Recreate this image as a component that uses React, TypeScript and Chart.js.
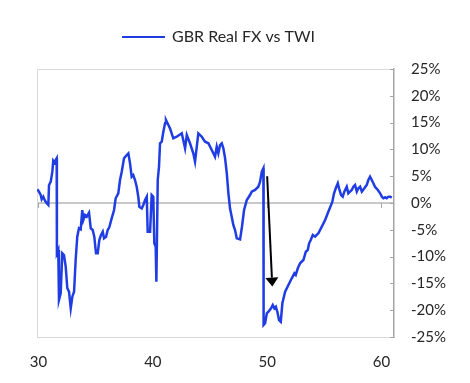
import React, { useEffect, useRef } from 'react';
import { Chart, registerables } from 'chart.js';

Chart.register(...registerables);

const seriesLabel = 'GBR Real FX vs TWI';

const xValues = [
  29.9, 30.04, 30.19, 30.28, 30.42, 30.57, 30.72, 30.86, 30.92, 31.07,
  31.21, 31.29, 31.42, 31.5, 31.59, 31.61, 31.73, 31.79, 31.94, 32.08,
  32.23, 32.38, 32.52, 32.67, 32.82, 32.96, 33.11, 33.25, 33.39, 33.54,
  33.69, 33.83, 33.92, 34.07, 34.22, 34.42, 34.57, 34.74, 34.88, 35.03,
  35.18, 35.32, 35.47, 35.62, 35.73, 35.91, 36.05, 36.19, 36.4, 36.61,
  36.75, 36.98, 37.13, 37.28, 37.48, 37.72, 37.86, 38.01, 38.15, 38.29,
  38.44, 38.59, 38.73, 38.82, 39.03, 39.17, 39.32, 39.47, 39.55, 39.76,
  39.9, 40.04, 40.13, 40.25, 40.31, 40.43, 40.54, 40.63, 40.78, 40.92,
  41.07, 41.15, 41.36, 41.5, 41.79, 42.09, 42.53, 42.82, 42.97, 43.25,
  43.54, 43.69, 43.98, 44.28, 44.57, 44.86, 45.15, 45.44, 45.59, 45.73,
  45.88, 46.03, 46.17, 46.32, 46.47, 46.61, 46.75, 46.9, 47.04, 47.19,
  47.34, 47.63, 47.78, 47.98, 48.22, 48.5, 48.65, 48.94, 49.23, 49.38,
  49.53, 49.67, 49.69, 49.82, 49.97, 50.11, 50.34, 50.49, 50.63, 50.76,
  50.89, 51.04, 51.19, 51.33, 51.57, 51.86, 52.15, 52.38, 52.5, 52.68,
  52.88, 53.17, 53.38, 53.55, 53.67, 53.81, 53.99, 54.19, 54.48, 54.78,
  55.07, 55.35, 55.59, 55.7, 55.85, 56.0, 56.18, 56.29, 56.47, 56.61,
  56.75, 56.96, 57.1, 57.25, 57.4, 57.54, 57.69, 57.84, 57.98, 58.13,
  58.28, 58.5, 58.71, 58.85, 59.0, 59.15, 59.29, 59.43, 59.68, 59.88,
  60.03, 60.17, 60.32, 60.46, 60.6, 60.75, 60.9,
];

const yValues = [
  2.56, 2.11, 1.49, 0.69, 1.18, 0.43, -0.06, -0.37, 3.36, 3.97,
  5.84, 7.89, 7.52, 8.02, 8.34, -9.38, -8.77, -18.1, -16.85, -9.38,
  -9.7, -11.88, -15.91, -16.55, -19.65, -17.48, -16.55, -10.63, -6.29, -4.72,
  -4.91, -1.31, -3.17, -2.24, -2.56, -1.81, -4.72, -5.04, -6.29, -9.38,
  -9.38, -6.9, -5.97, -5.35, -6.59, -6.29, -5.04, -4.53, -2.86, -1.31,
  0.88, 1.81, 4.29, 5.84, 8.34, 8.96, 9.27, 7.35, 4.91, 5.22,
  4.29, 3.04, 1.12, -0.69, -0.99, -0.37, 0.56, 1.18, -5.35, -5.35,
  1.49, 1.18, -7.52, -8.15, -14.68, 4.29, 6.77, 11.14, 11.44, 13.3,
  14.87, 15.49, 14.55, 13.93, 12.07, 12.37, 13.0, 10.2, 12.69, 11.14,
  9.27, 7.71, 13.0, 12.37, 11.44, 11.14, 9.89, 8.64, 10.5, 9.27,
  10.82, 11.14, 10.2, 8.34, 5.54, 1.81, -0.99, -2.56, -4.1, -5.04,
  -6.59, -6.78, -4.72, -1.31, 0.56, 1.49, 2.11, 2.43, 3.04, 3.97,
  5.84, 6.47, -22.76, -22.44, -20.58, -20.28, -19.65, -19.03, -19.65, -19.35,
  -20.28, -21.83, -22.15, -18.71, -16.55, -15.3, -14.05, -13.12, -13.43, -12.18,
  -11.25, -10.63, -9.09, -8.77, -7.52, -6.9, -5.97, -6.29, -5.66, -4.42,
  -3.17, -1.62, -0.37, 0.24, 1.81, 2.74, 3.68, 2.74, 1.49, 1.18,
  2.11, 3.04, 1.81, 2.11, 2.43, 3.04, 3.36, 2.11, 2.74, 3.04,
  2.11, 2.74, 3.36, 4.29, 4.91, 4.29, 3.68, 3.04, 2.43, 1.81,
  1.18, 0.88, 1.06, 0.88, 1.18, 1.18, 0.99,
];

const xTickValues = [30, 40, 50, 60];
const xMin = 29.869;
const xMax = 61.094;
const yMin = -25;
const yMax = 25;
const yStep = 5;

// annotation arrow (data coordinates): start and tip
const arrowFrom = [50.0, 5.0];
const arrowTo = [50.45, -15.6];

const FONT = 'Lato, "Open Sans", sans-serif';
const TEXT = '#262626';
const LINE_BLUE = '#1f3de3';

const framePlugin = {
  id: 'plotFrame',
  beforeDatasetsDraw(chart: any) {
    const { ctx, chartArea: a, scales } = chart;
    ctx.save();
    ctx.lineWidth = 1;
    ctx.strokeStyle = '#d9d9d9';
    ctx.beginPath();
    ctx.moveTo(Math.round(a.left) + 0.5, a.bottom);
    ctx.lineTo(Math.round(a.left) + 0.5, Math.round(a.top) + 0.5);
    ctx.lineTo(a.right, Math.round(a.top) + 0.5);
    ctx.stroke();
    // inner tick marks on right axis
    ctx.strokeStyle = '#a6a6a6';
    ctx.beginPath();
    const ys = scales.y;
    ys.ticks.forEach((t: any) => {
      const py = Math.round(ys.getPixelForValue(t.value)) + 0.5;
      ctx.moveTo(a.right - 4, py);
      ctx.lineTo(a.right, py);
    });
    // tick marks on the zero line
    const y0 = ys.getPixelForValue(0);
    const xs = scales.x;
    xs.ticks.forEach((t: any) => {
      const px = Math.round(xs.getPixelForValue(t.value)) + 0.5;
      ctx.moveTo(px, y0);
      ctx.lineTo(px, y0 + 5);
    });
    ctx.stroke();
    ctx.restore();
  },
};

const arrowPlugin = {
  id: 'arrowAnnotation',
  afterDatasetsDraw(chart: any) {
    const { ctx, scales } = chart;
    const x1 = scales.x.getPixelForValue(arrowFrom[0]);
    const y1 = scales.y.getPixelForValue(arrowFrom[1]);
    const x2 = scales.x.getPixelForValue(arrowTo[0]);
    const y2 = scales.y.getPixelForValue(arrowTo[1]);
    const ang = Math.atan2(y2 - y1, x2 - x1);
    const headLen = 9;
    const headHalf = 6.5;
    const bx = x2 - headLen * Math.cos(ang);
    const by = y2 - headLen * Math.sin(ang);
    ctx.save();
    ctx.strokeStyle = '#000';
    ctx.fillStyle = '#000';
    ctx.lineWidth = 2;
    ctx.beginPath();
    ctx.moveTo(x1, y1);
    ctx.lineTo(bx, by);
    ctx.stroke();
    ctx.beginPath();
    ctx.moveTo(x2, y2);
    ctx.lineTo(bx + headHalf * Math.sin(ang), by - headHalf * Math.cos(ang));
    ctx.lineTo(bx - headHalf * Math.sin(ang), by + headHalf * Math.cos(ang));
    ctx.closePath();
    ctx.fill();
    ctx.restore();
  },
};

const legendPlugin = {
  id: 'lineLegend',
  afterDraw(chart: any) {
    const { ctx } = chart;
    const ds = chart.data.datasets[0];
    const cy = 37;
    const lineStart = 122;
    const lineEnd = 165;
    ctx.save();
    ctx.strokeStyle = ds.borderColor;
    ctx.lineWidth = 2;
    ctx.beginPath();
    ctx.moveTo(lineStart, cy);
    ctx.lineTo(lineEnd, cy);
    ctx.stroke();
    ctx.font = `16px ${FONT}`;
    ctx.fillStyle = TEXT;
    ctx.textAlign = 'left';
    ctx.textBaseline = 'middle';
    ctx.fillText(ds.label, 172, cy);
    ctx.restore();
  },
};

export default function App() {
  const ref = useRef<HTMLCanvasElement>(null);

  useEffect(() => {
    if (!ref.current) return;
    const data = xValues.map((x, i) => ({ x, y: yValues[i] }));
    const chart = new Chart(ref.current, {
      type: 'line',
      data: {
        datasets: [
          {
            label: seriesLabel,
            data,
            borderColor: LINE_BLUE,
            borderWidth: 2.5,
            pointRadius: 0,
            tension: 0,
            fill: false,
          },
        ],
      },
      options: {
        animation: false,
        responsive: false,
        devicePixelRatio: 1,
        layout: { padding: { left: 37, right: 0, top: 69, bottom: 0 } },
        plugins: {
          legend: { display: false },
          tooltip: { enabled: false },
        },
        scales: {
          x: {
            type: 'linear',
            min: xMin,
            max: xMax,
            afterBuildTicks: (scale: any) => {
              scale.ticks = xTickValues.map((v) => ({ value: v }));
            },
            afterFit: (scale: any) => {
              scale.height = 46;
            },
            grid: { display: false, drawTicks: false },
            border: { display: true, color: '#d9d9d9', width: 1 },
            ticks: {
              font: { family: FONT, size: 15 },
              color: TEXT,
              padding: 16,
              maxRotation: 0,
              autoSkip: false,
              callback: (v: any) => String(v),
            },
          },
          y: {
            position: 'right',
            min: yMin,
            max: yMax,
            afterFit: (scale: any) => {
              scale.width = 76;
            },
            grid: {
              drawTicks: false,
              color: (c: any) => (c.tick && c.tick.value === 0 ? '#c8c8c8' : 'rgba(0,0,0,0)'),
              lineWidth: 2,
            },
            border: { display: true, color: '#a6a6a6', width: 1.5 },
            ticks: {
              stepSize: yStep,
              font: { family: FONT, size: 15 },
              color: TEXT,
              padding: 17,
              callback: (v: any) => `${v}%`,
            },
          },
        },
      },
      plugins: [framePlugin, arrowPlugin, legendPlugin],
    });
    return () => chart.destroy();
  }, []);

  return (
    <div style={{ position: 'fixed', left: 0, top: 0, width: 470, height: 383, background: '#fff' }}>
      <canvas ref={ref} width={470} height={383} />
    </div>
  );
}
